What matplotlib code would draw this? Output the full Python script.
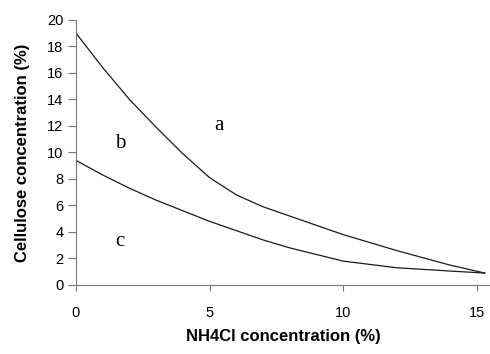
import matplotlib.pyplot as plt
import numpy as np

plt.rcParams['font.family'] = ['Liberation Sans', 'DejaVu Sans']

nh4cl = [0, 1, 2, 3, 4, 5, 6, 7, 8, 10, 12, 14, 15.3]
upper = [19, 16.4, 14.0, 11.9, 9.9, 8.1, 6.8, 5.9, 5.2, 3.8, 2.6, 1.5, 0.9]
lower = [9.4, 8.3, 7.3, 6.4, 5.6, 4.8, 4.1, 3.4, 2.8, 1.8, 1.3, 1.05, 0.9]

fig = plt.figure(figsize=(4.9, 3.54), dpi=100)
ax = fig.add_axes([0.155, 0.195, 0.845, 0.749])

ax.plot(nh4cl, upper, color='#1a1a1a', lw=0.9)
ax.plot(nh4cl, lower, color='#1a1a1a', lw=0.9)

ax.text(5.36, 12.0, 'a', family='Liberation Serif', fontsize=15, ha='center', va='center')
ax.text(1.66, 10.7, 'b', family='Liberation Serif', fontsize=15, ha='center', va='center')
ax.text(1.66, 3.25, 'c', family='Liberation Serif', fontsize=15, ha='center', va='center')

ax.set_xlim(0, 15.5)
ax.set_ylim(0, 20)
ax.set_xticks([0, 5, 10, 15])
ax.set_yticks(np.arange(0, 21, 2))
for s in ['top', 'right']:
    ax.spines[s].set_visible(False)
for s in ['left', 'bottom']:
    ax.spines[s].set_color('#777777')
ax.tick_params(axis='both', colors='#777777', labelcolor='black', labelsize=10.5, length=4.5)
ax.tick_params(axis='x', pad=11)
ax.tick_params(axis='y', length=6, pad=3)

ax.set_xlabel('NH4Cl concentration (%)', fontsize=12, fontweight='bold', labelpad=6)
ax.set_ylabel('Cellulose concentration (%)', fontsize=12, fontweight='bold', labelpad=12)

fig.savefig('out.png', dpi=100)
